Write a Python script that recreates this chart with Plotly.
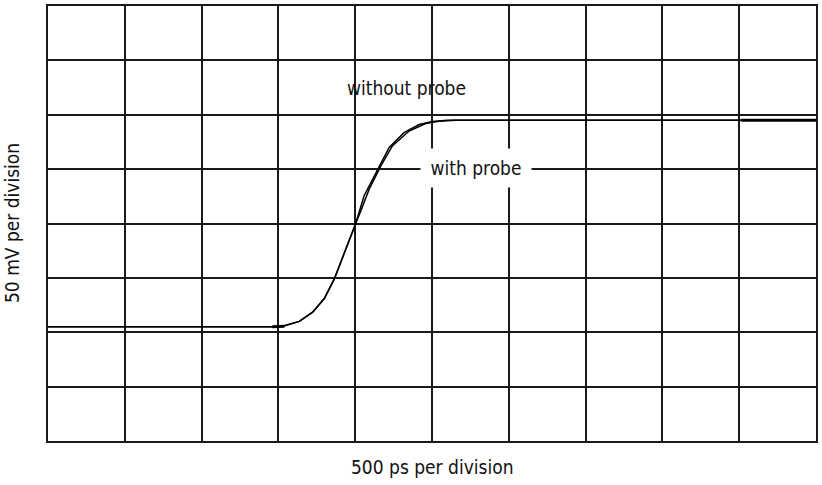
import plotly.graph_objects as go

# time in ps, voltage in mV
t_without = [0, 1461, 1539, 1636, 1723, 1799, 1864, 1918, 1961, 2002, 2058, 2145, 2221, 2318, 2416, 2502, 2600, 5000]
v_without = [105, 105, 106, 110, 118.5, 131, 149, 169, 186, 199.5, 225.5, 250, 270, 283.5, 291, 293.8, 295, 295]

t_with = [0, 1461, 1539, 1636, 1723, 1799, 1864, 1918, 1961, 2002, 2037, 2091, 2167, 2242, 2351, 2459, 2545, 2650, 5000]
v_with = [105, 105, 106, 110, 118.5, 131, 149, 169, 186, 199.5, 211.7, 231.6, 253, 271.3, 285, 292, 294, 295, 295]

# short heavier segments of the trace
seg_t = [[1461, 1539], [4513, 5000]]
seg_v = [[105, 105.5], [295, 295]]

FONT = "Liberation Sans Narrow, DejaVu Sans Condensed, Arial Narrow, Liberation Sans, sans-serif"

fig = go.Figure()
fig.add_trace(go.Scatter(x=t_with, y=v_with, mode="lines",
                         line=dict(color="black", width=1.5), name="with probe"))
fig.add_trace(go.Scatter(x=t_without, y=v_without, mode="lines",
                         line=dict(color="black", width=1.5), name="without probe"))
for st, sv in zip(seg_t, seg_v):
    fig.add_trace(go.Scatter(x=st, y=sv, mode="lines",
                             line=dict(color="black", width=3), showlegend=False))

axis_common = dict(showgrid=True, gridcolor="#1a1a1a", gridwidth=1.5,
                   zeroline=False, showticklabels=False, ticks="",
                   showline=True, linecolor="#1a1a1a", linewidth=1.5, mirror=True)

fig.update_layout(
    width=822, height=485,
    margin=dict(l=48, r=4, t=5, b=44),
    paper_bgcolor="white", plot_bgcolor="white",
    showlegend=False,
    font=dict(family=FONT, color="#111", size=18),
    xaxis=dict(range=[0, 5000], dtick=500, tick0=0, **axis_common),
    yaxis=dict(range=[0, 400], dtick=50, tick0=0, **axis_common),
    annotations=[
        dict(x=2331, y=325, xref="x", yref="y", text="without probe", showarrow=False,
             font=dict(family=FONT, size=19, color="#111")),
        dict(x=2789, y=250.6, xref="x", yref="y", text="with probe", showarrow=False,
             bgcolor="white", width=108, height=36, borderpad=1,
             font=dict(family=FONT, size=19, color="#111")),
        dict(x=0.5, y=-0.0596, xref="paper", yref="paper", text="500 ps per division",
             showarrow=False, yanchor="middle", font=dict(family=FONT, size=19, color="#111")),
        dict(x=-0.0475, y=0.5, xref="paper", yref="paper", text="50 mV per division",
             showarrow=False, textangle=-90, xanchor="center",
             font=dict(family=FONT, size=19, color="#111")),
    ],
)

fig.write_html("out.html")
